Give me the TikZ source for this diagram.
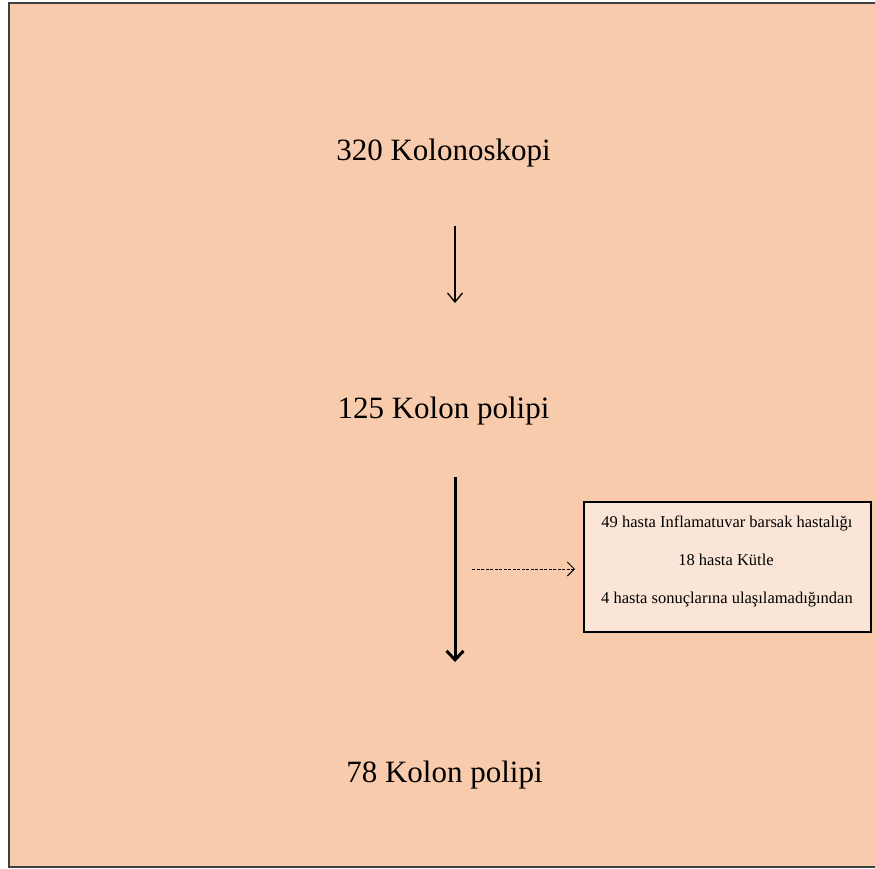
\documentclass[tikz,border=0pt]{standalone}
\usepackage{fontspec}
\setmainfont{Liberation Serif}
\usetikzlibrary{arrows.meta}
\definecolor{peach}{HTML}{F8CBAD}
\definecolor{lightpeach}{HTML}{FBE5D6}
\tikzset{
  stage/.style={anchor=base, inner sep=0pt, font=\fontsize{31}{36}\selectfont},
  exclbox/.style={draw=black, line width=1.3pt, fill=lightpeach, minimum width=287pt, minimum height=130pt, inner sep=0pt},
  excltext/.style={anchor=base, inner sep=0pt, font=\fontsize{16.5}{20}\selectfont}
}
\begin{document}
\begin{tikzpicture}[x=1pt, y=-1pt]
\useasboundingbox (0,0) rectangle (875,868);
\clip (0,0) rectangle (875,868);
\draw[line width=2pt, draw=black!75, fill=peach] (9,3) rectangle (885,867);
\node[stage] (kolonoskopi) at (443.5,160) {320 Kolonoskopi};
\node[stage] (polip1) at (443.5,418) {125 Kolon polipi};
\node[stage] (polip2) at (444.5,782) {78 Kolon polipi};
\coordinate (a1top) at (455,226);
\coordinate (a1tip) at (455,303);
\coordinate (a2top) at (455,477);
\coordinate (a2tip) at (455,662);
\coordinate (dstart) at (472,569);
\coordinate (dtip) at (575,569);
\node[exclbox] (excl) at (727.5,567) {};
\node[excltext] (ibh) at (727,527) {49 hasta Inflamatuvar barsak hastalığı};
\node[excltext] (kutle) at (726,565) {18 hasta Kütle};
\node[excltext] (ulas) at (727,603) {4 hasta sonuçlarına ulaşılamadığından};
\draw[-{Straight Barb[length=9pt, width=15pt]}, line width=1.3pt] (a1top) -- (a1tip);
\draw[-{Straight Barb[length=9pt, width=17pt]}, line width=3pt] (a2top) -- (a2tip);
\draw[-{Straight Barb[length=7pt, width=14pt]}, line width=1pt, dash pattern=on 3pt off 1.5pt] (dstart) -- (dtip);
\end{tikzpicture}
\end{document}
